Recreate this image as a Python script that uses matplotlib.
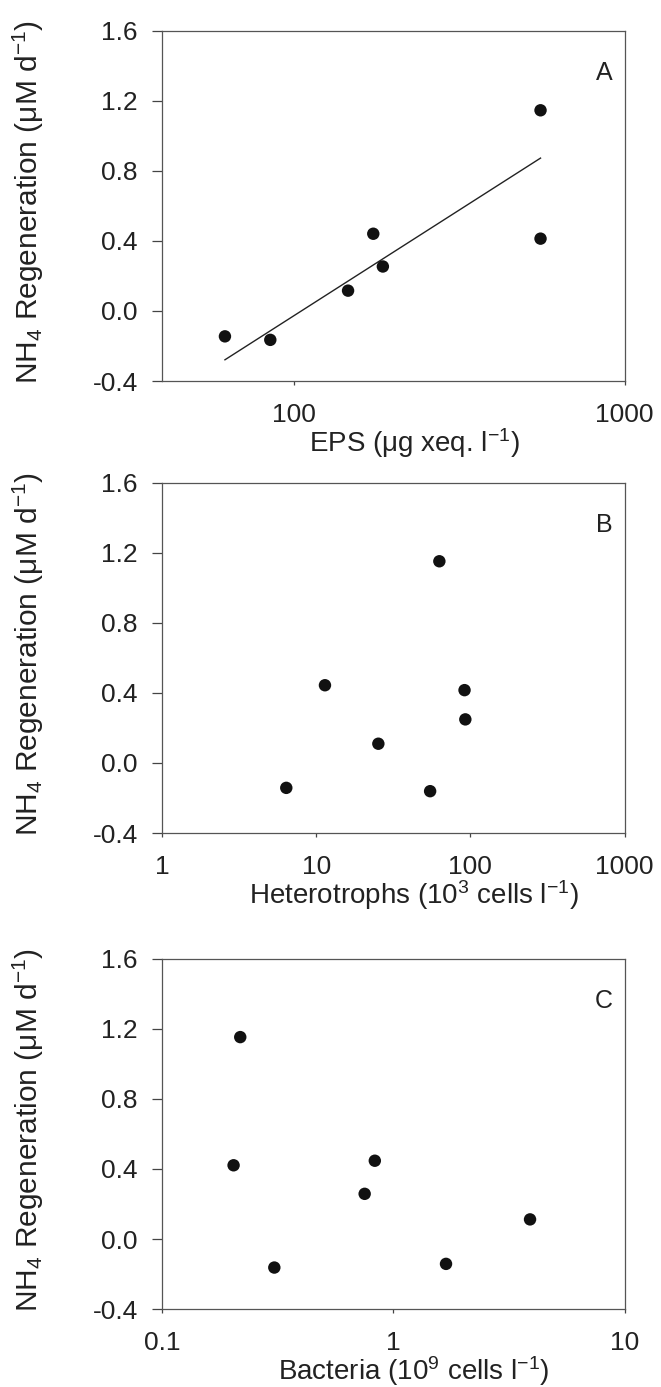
import numpy as np
import matplotlib
matplotlib.use("Agg")
import matplotlib.pyplot as plt

plt.rcParams['font.family'] = ['Liberation Sans', 'DejaVu Sans']
plt.rcParams['mathtext.default'] = 'regular'

# NH4 regeneration (uM/d) against three predictors
eps = [62, 85, 146, 174, 186, 557, 557]
eps_nh4 = [-0.145, -0.165, 0.116, 0.441, 0.254, 1.146, 0.413]
# fitted line in panel A: y = a + b*log10(x)
fit_a = -2.444
fit_b = 1.208

hetero = [6.4, 11.4, 62.9, 25.3, 91.6, 92.7, 54.8]
hetero_nh4 = [-0.142, 0.444, 1.152, 0.110, 0.416, 0.249, -0.161]

bact = [0.218, 0.204, 0.306, 0.832, 0.752, 1.69, 3.90]
bact_nh4 = [1.153, 0.421, -0.163, 0.447, 0.258, -0.142, 0.112]

ylab = 'NH$_4$ Regeneration (\u03bcM d$^{-1}$)'
yticks = [-0.4, 0.0, 0.4, 0.8, 1.2, 1.6]

fig = plt.figure(figsize=(6.61, 13.87), dpi=100)

panels = [
    # x, y, xlim, xticks, ticklabels, xlabel, letter, bottom
    (eps, eps_nh4, (40, 1000), [100, 1000], ['100', '1000'],
     'EPS (\u03bcg xeq. l$^{-1}$)', 'A', 0.7253),
    (hetero, hetero_nh4, (1, 1000), [1, 10, 100, 1000], ['1', '10', '100', '1000'],
     'Heterotrophs (10$^3$ cells l$^{-1}$)', 'B', 0.3994),
    (bact, bact_nh4, (0.1, 10), [0.1, 1, 10], ['0.1', '1', '10'],
     'Bacteria (10$^9$ cells l$^{-1}$)', 'C', 0.0562),
]

for x, y, xlim, xt, xtl, xlab, letter, bot in panels:
    ax = fig.add_axes([0.245, bot, 0.700, 0.2525])
    ax.set_xscale('log')
    ax.set_xlim(xlim)
    ax.set_ylim(-0.4, 1.6)
    ax.scatter(x, y, s=80, color='#111111', zorder=3, edgecolors='none')
    if letter == 'A':
        xx = np.array([min(x), max(x)])
        ax.plot(xx, fit_a + fit_b * np.log10(xx), color='#222222', lw=1.0)
    ax.set_xticks(xt)
    ax.set_xticklabels(xtl)
    ax.xaxis.set_minor_locator(matplotlib.ticker.NullLocator())
    ax.set_yticks(yticks)
    ax.set_yticklabels(['%.1f' % v for v in yticks])
    ax.tick_params(direction='out', width=0.9, color='#444444',
                   labelsize=19, labelcolor='#222222')
    ax.tick_params(axis='y', length=7, pad=10.5)
    ax.tick_params(axis='x', length=3, pad=13)
    for sp in ax.spines.values():
        sp.set_color('#555555')
        sp.set_linewidth(0.9)
    ax.set_ylabel(ylab, fontsize=21.5, color='#222222')
    ax.yaxis.set_label_coords(-0.25, 0.51)
    ax.set_xlabel(xlab, fontsize=20, color='#222222')
    ax.xaxis.set_label_coords(0.545, -0.13)
    ax.text(0.975, 0.88, letter, transform=ax.transAxes, ha='right', va='center',
            fontsize=18, color='#222222')

fig.savefig('out.png', dpi=100)
